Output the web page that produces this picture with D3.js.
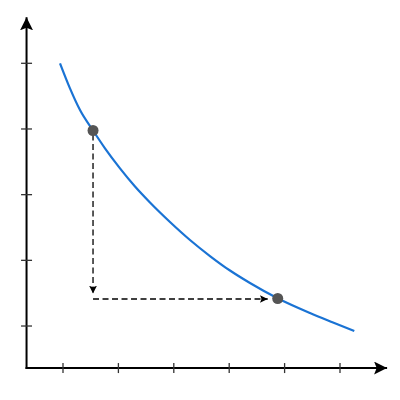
<!DOCTYPE html>
<html><head><meta charset="utf-8">
<script src="https://cdn.jsdelivr.net/npm/d3@7"></script>
<style>body{margin:0;background:#fff}svg{display:block}</style>
</head><body>
<script>
const xTicks = [1, 2, 3, 4, 5, 6];
const yTicks = [1, 2, 3, 4, 5];
const curveX = [0.946, 1.126, 1.307, 1.542, 1.758, 2.029, 2.300, 2.570, 2.931, 3.292, 3.653, 4.014, 4.375, 4.881, 5.458, 5.874, 6.258];
const curveY = [5.000, 4.619, 4.289, 3.977, 3.706, 3.401, 3.124, 2.881, 2.584, 2.310, 2.066, 1.845, 1.655, 1.419, 1.198, 1.054, 0.924];
const pointX = [1.542, 4.876];
const pointY = [3.977, 1.419];

const W = 400, H = 400;
const x = d3.scaleLinear().domain([0, 6]).range([7.6, 340]);
const y = d3.scaleLinear().domain([0, 5]).range([391.7, 63.3]);
const x0 = 0.342, x1 = 6.85, y0 = 0.36, y1 = 5.70;

const svg = d3.select("body").append("svg").attr("width", W).attr("height", H);
const defs = svg.append("defs");
defs.append("marker").attr("id", "axArrow").attr("viewBox", "0 0 10 10")
  .attr("refX", 10).attr("refY", 5).attr("markerWidth", 6.5).attr("markerHeight", 6.5)
  .attr("markerUnits", "strokeWidth").attr("orient", "auto")
  .append("path").attr("d", "M0,0 L10,5 L0,10 L2,5 Z").attr("fill", "#000");
defs.append("marker").attr("id", "dArrow").attr("viewBox", "0 0 10 10")
  .attr("refX", 10).attr("refY", 5).attr("markerWidth", 6).attr("markerHeight", 6)
  .attr("markerUnits", "strokeWidth").attr("orient", "auto")
  .append("path").attr("d", "M0,0 L10,5 L0,10 L2,5 Z").attr("fill", "#000");

// axes
svg.append("line").attr("x1", x(x0) - 1).attr("x2", x(x1)).attr("y1", y(y0)).attr("y2", y(y0))
  .attr("stroke", "#000").attr("stroke-width", 2).attr("marker-end", "url(#axArrow)");
svg.append("line").attr("x1", x(x0)).attr("x2", x(x0)).attr("y1", y(y0) + 1).attr("y2", y(y1))
  .attr("stroke", "#000").attr("stroke-width", 2).attr("marker-end", "url(#axArrow)");

svg.selectAll(".xt").data(xTicks).enter().append("line")
  .attr("x1", d => x(d)).attr("x2", d => x(d)).attr("y1", y(y0) - 5).attr("y2", y(y0) + 5)
  .attr("stroke", "#333").attr("stroke-width", 1.3);
svg.selectAll(".yt").data(yTicks).enter().append("line")
  .attr("y1", d => y(d)).attr("y2", d => y(d)).attr("x1", x(x0) - 5.5).attr("x2", x(x0) + 5.5)
  .attr("stroke", "#333").attr("stroke-width", 1.3);

// curve
const pts = curveX.map((v, i) => [v, curveY[i]]);
svg.append("path").datum(pts)
  .attr("d", d3.line().x(d => x(d[0])).y(d => y(d[1])).curve(d3.curveMonotoneX))
  .attr("fill", "none").attr("stroke", "#1a73d4").attr("stroke-width", 2.2);

// dashed guides
const px1 = x(pointX[0]), py1 = y(pointY[0]), px2 = x(pointX[1]), py2 = y(pointY[1]);
svg.append("line").attr("x1", px1).attr("x2", px1).attr("y1", py1 + 4).attr("y2", py2 - 5)
  .attr("stroke", "#000").attr("stroke-width", 1.3).attr("stroke-dasharray", "6,3.5")
  .attr("marker-end", "url(#dArrow)");
svg.append("line").attr("x1", px1).attr("x2", px2 - 10).attr("y1", py2 + 0.5).attr("y2", py2 + 0.5)
  .attr("stroke", "#000").attr("stroke-width", 1.3).attr("stroke-dasharray", "6,3.5")
  .attr("marker-end", "url(#dArrow)");

svg.selectAll(".pt").data(pointX).enter().append("circle")
  .attr("cx", d => x(d)).attr("cy", (d, i) => y(pointY[i])).attr("r", 5.5)
  .attr("fill", "#555");
</script>
</body></html>
